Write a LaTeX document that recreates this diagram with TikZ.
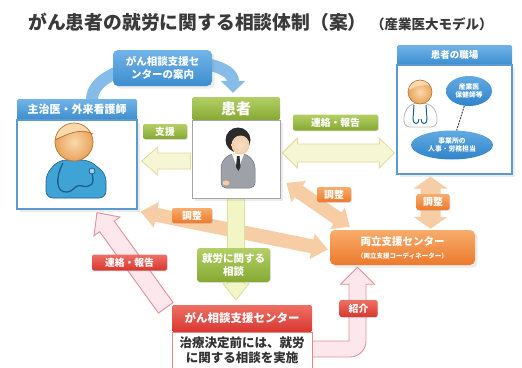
\documentclass[tikz,border=0pt]{standalone}
\usepackage{fontspec}
\setmainfont{Noto Sans CJK JP}
\usetikzlibrary{calc,arrows.meta,shapes.geometric,shadows}
\pgfdeclarelayer{canvas}
\pgfdeclarelayer{back}
\pgfsetlayers{canvas,back,main}

\definecolor{hdblue}{HTML}{3C8DCF}
\definecolor{hdbluel}{HTML}{72B4E8}
\definecolor{bxblue}{HTML}{5B9BD0}
\definecolor{hdgreen}{HTML}{86A932}
\definecolor{hdgreenl}{HTML}{B3CF66}
\definecolor{lborange}{HTML}{EC7A2C}
\definecolor{lborangel}{HTML}{F8AC6C}
\definecolor{lbred}{HTML}{D8372F}
\definecolor{lbredl}{HTML}{EE7064}
\definecolor{arryel}{HTML}{F7F6D4}
\definecolor{arryelo}{HTML}{DEDC9C}
\definecolor{arrgrn}{HTML}{F2F5C4}
\definecolor{arrgrno}{HTML}{DCE19A}
\definecolor{arrorg}{HTML}{F7CDA6}
\definecolor{arrpink}{HTML}{FCE8EC}
\definecolor{arrpinko}{HTML}{E58E9C}
\definecolor{arcblue}{HTML}{86BDE8}
\definecolor{skin}{HTML}{E9A35C}
\definecolor{skinl}{HTML}{FAD9AC}
\definecolor{skind}{HTML}{B8742F}
\definecolor{docblue}{HTML}{3FA3D6}
\definecolor{docblued}{HTML}{1D5E8A}
\definecolor{suit}{HTML}{9EA1A7}
\definecolor{suitd}{HTML}{6E7177}
\definecolor{face}{HTML}{F4CCA6}
\definecolor{hair}{HTML}{2B2B2B}
\definecolor{ellblue}{HTML}{2F84CA}
\definecolor{ellbluel}{HTML}{62AAE2}
\definecolor{titlegray}{HTML}{3A3A3A}

% wide outlined arrow with one head, from #2 to #3
% #4 half shaft width, #5 half head width, #6 head length
\newcommand\fatsingle[6]{%
  \path[#1] ($(#2)!#4!90:(#3)$)
    -- ($(#3)!#6!(#2)!#4!-90:(#2)$)
    -- ($(#3)!#6!(#2)!#5!-90:(#2)$)
    -- (#3)
    -- ($(#3)!#6!(#2)!#5!90:(#2)$)
    -- ($(#3)!#6!(#2)!#4!90:(#2)$)
    -- ($(#2)!#4!-90:(#3)$) -- cycle;}
% same, with a head at both ends
\newcommand\fatdouble[6]{%
  \path[#1] (#2)
    -- ($(#2)!#6!(#3)!#5!90:(#3)$)
    -- ($(#2)!#6!(#3)!#4!90:(#3)$)
    -- ($(#3)!#6!(#2)!#4!-90:(#2)$)
    -- ($(#3)!#6!(#2)!#5!-90:(#2)$)
    -- (#3)
    -- ($(#3)!#6!(#2)!#5!90:(#2)$)
    -- ($(#3)!#6!(#2)!#4!90:(#2)$)
    -- ($(#2)!#6!(#3)!#4!-90:(#3)$)
    -- ($(#2)!#6!(#3)!#5!-90:(#3)$)
    -- cycle;}

\begin{document}
\begin{tikzpicture}[x=1pt,y=-1pt,
  every node/.style={inner sep=0pt, align=center},
  hdr/.style={rounded corners=1.5pt, text=white, font=\bfseries\fontsize{10}{12}\selectfont},
  bluehdr/.style={hdr, top color=hdbluel, bottom color=hdblue},
  greenhdr/.style={hdr, top color=hdgreenl, bottom color=hdgreen},
  redhdr/.style={hdr, top color=lbredl, bottom color=lbred},
  orangebox/.style={hdr, top color=lborangel, bottom color=lborange},
  bluebody/.style={draw=bxblue, line width=1.3pt, fill=white},
  lbl/.style={rounded corners=2pt, text=white, font=\bfseries\fontsize{9.8}{11}\selectfont,
    drop shadow={opacity=0.2, shadow xshift=0.8pt, shadow yshift=-0.8pt}},
  greenlbl/.style={lbl, top color=hdgreenl, bottom color=hdgreen},
  orangelbl/.style={lbl, top color=lborangel, bottom color=lborange},
  redlbl/.style={lbl, top color=lbredl, bottom color=lbred},
  wpell/.style={ellipse, top color=ellbluel, bottom color=ellblue, text=white,
    font=\bfseries\fontsize{6.8}{8.2}\selectfont},
  yelarrow/.style={fill=arryel, draw=arryelo, line width=0.8pt},
  grnarrow/.style={fill=arrgrn, draw=arrgrno, line width=0.8pt},
  orgarrow/.style={fill=arrorg},
  redhollow/.style={fill=arrpink, draw=arrpinko, line width=0.9pt}
]
\useasboundingbox (0,0) rectangle (522,367);
\begin{pgfonlayer}{canvas}
  \fill[white] (0,0) rectangle (522,367);
\end{pgfonlayer}

% title
\node[anchor=west, text=titlegray, font=\bfseries\fontsize{18.8}{20}\selectfont] (title) at (28,22) {がん患者の就労に関する相談体制（案）};
\node[anchor=west, text=titlegray, font=\bfseries\fontsize{13.5}{15}\selectfont] (subtitle) at (371,24) {（産業医大モデル）};

% attending physician
\node[bluehdr, minimum width=120, minimum height=21, font=\bfseries\fontsize{11}{12}\selectfont] (dochd) at (77,109.5) {主治医・外来看護師};
\node[bluebody, minimum width=120, minimum height=89, drop shadow={opacity=0.15}] (docbody) at (77,164.5) {};

% patient
\node[greenhdr, minimum width=88, minimum height=23, font=\bfseries\fontsize{15}{16}\selectfont] (pathd) at (236,108.5) {患者};
\node[draw=gray!70, line width=1pt, fill=white, minimum width=88, minimum height=78, drop shadow={opacity=0.15}] (patbody) at (236,159) {};

% workplace
\node[bluehdr, minimum width=115, minimum height=20, font=\bfseries\fontsize{9.5}{11}\selectfont] (wphd) at (454.5,55) {患者の職場};
\node[bluebody, minimum width=115, minimum height=109, drop shadow={opacity=0.15}] (wpbody) at (454.5,119.5) {};
\node[wpell, minimum width=46, minimum height=30] (sangyo) at (469,91) {産業医\\保健師等};
\node[wpell, minimum width=82, minimum height=29] (jigyo) at (452,145) {事業所の\\人事・労務担当};
\draw[gray!60!black, line width=1pt, dash pattern=on 2pt off 1pt] (sangyo) -- (jigyo);

% guide bubble
\node[bluehdr, rounded corners=5pt, minimum width=99, minimum height=36, font=\bfseries\fontsize{10.5}{13}\selectfont, drop shadow={opacity=0.15}] (guide) at (162.5,68) {がん相談支援セ\\ンターの案内};

% coordination centre
\node[orangebox, rounded corners=5pt, minimum width=145, minimum height=35, drop shadow={opacity=0.15}] (ryo) at (402.5,247.5)
  {{\fontsize{10.5}{12}\selectfont 両立支援センター}\\[1pt]{\fontsize{6.5}{8}\selectfont （両立支援コーディネーター）}};

% work consultation
\node[greenlbl, rounded corners=3pt, minimum width=73, minimum height=34, font=\bfseries\fontsize{10.5}{13}\selectfont] (shuro) at (233.5,265) {就労に関する\\相談};

% cancer consultation support centre
\node[redhdr, minimum width=140, minimum height=27, font=\bfseries\fontsize{11.5}{13}\selectfont] (ganhd) at (242,318.5) {がん相談支援センター};
\node[draw=lbred!60, line width=1pt, fill=white, minimum width=140, minimum height=36, text=black!80, font=\bfseries\fontsize{12.5}{15}\selectfont] (ganbody) at (242,350) {治療決定前には、就労\\に関する相談を実施};

% labels
\node[greenlbl, minimum width=44, minimum height=15] (shien) at (165,131.5) {支援};
\node[greenlbl, minimum width=85, minimum height=16] (renraku1) at (335.5,122.5) {連絡・報告};
\node[orangelbl, minimum width=40, minimum height=15] (chosei1) at (192,215.5) {調整};
\node[orangelbl, minimum width=34, minimum height=15] (chosei2) at (334,194.5) {調整};
\node[orangelbl, minimum width=33, minimum height=16] (chosei3) at (433,202) {調整};
\node[redlbl, minimum width=75, minimum height=16] (renraku2) at (129.5,262.5) {連絡・報告};
\node[redlbl, minimum width=38, minimum height=17] (shokai) at (358.5,308.5) {紹介};

% physician figure
\filldraw[fill=docblue, draw=docblued, line width=0.6pt, rounded corners=7pt]
  (46,198) -- (46,174) -- (59,160) -- (89,160) -- (106,174) -- (106,198) -- cycle;
\draw[docblued, line width=1.3pt] (63,163) .. controls (55,178) and (56,193) .. (67,192)
  .. controls (75,191) and (74,184) .. (82,186) .. controls (91,188) and (95,184) .. (92,174);
\filldraw[fill=docblue!50, draw=docblued, line width=0.8pt] (92,171) circle (3);
\shade[inner color=skinl, outer color=skin] (74,142) circle (19);
\begin{scope}
  \clip (74,142) circle (19);
  \fill[skinl] (52,120) -- (52,140) .. controls (66,135) and (80,127) .. (95,134) -- (95,120) -- cycle;
\end{scope}
\draw[skind, line width=0.7pt] (55,140) .. controls (66,135) and (80,127) .. (93,134);
\draw[skind, line width=0.7pt] (74,142) circle (19);

% patient figure
\filldraw[fill=suit, draw=suitd, line width=0.5pt, rounded corners=5pt]
  (221,188) -- (221,163) -- (229,154) -- (247,154) -- (255,163) -- (255,188) -- cycle;
\fill[white] (232,154) -- (238,170) -- (244,154) -- cycle;
\fill[hair] (237,156) -- (239.5,156) -- (240.5,167) -- (238.3,171) -- (236,167) -- cycle;
\fill[face] (226,183) ellipse (3.5 and 2.5);
\fill[hair] (238,140) circle (12.5);
\shade[inner color=face!60!white, outer color=face] (240.5,145) ellipse (9 and 9.5);

% occupational physician figure
\filldraw[fill=white, draw=gray!55, line width=0.8pt, rounded corners=6pt]
  (404,127) -- (404,112) -- (412,103) -- (429,103) -- (437,112) -- (437,127) -- cycle;
\draw[docblued, line width=1pt] (414,105) -- (413,119) .. controls (413,125) and (419,125) .. (419,119);
\draw[docblued, line width=1pt] (426,105) -- (427,119) .. controls (427,125) and (421,125) .. (421,119);
\shade[inner color=skinl, outer color=skin] (420,92) circle (12);
\begin{scope}
  \clip (420,92) circle (12);
  \fill[skinl] (406,78) -- (406,91) .. controls (414,88) and (423,82) .. (433,87) -- (433,78) -- cycle;
\end{scope}
\draw[skind, line width=0.6pt] (420,92) circle (12);

% connectors, behind the boxes
\begin{pgfonlayer}{back}
  % referral guidance arc
  \draw[arcblue, line width=12pt, -{Triangle[width=24pt,length=12pt]}]
    ($(dochd.north)+(15,1)$) .. controls ($(dochd.north)+(15,-44)$) and ($(pathd.north)+(-3,-46)$) .. ($(pathd.north)+(-3,-4)$);
  % support
  \coordinate (a1s) at ($(patbody.west)+(-1,2)$);
  \coordinate (a1e) at ($(docbody.east |- a1s)+(4,0)$);
  \fatsingle{yelarrow}{a1s}{a1e}{8pt}{14pt}{16pt}
  % contact / report with workplace
  \coordinate (a2s) at ($(patbody.east)+(2,-6)$);
  \coordinate (a2e) at ($(wpbody.west |- a2s)+(-2,0)$);
  \fatdouble{yelarrow}{a2s}{a2e}{9pt}{15pt}{15pt}
  % coordination arrows
  \coordinate (a3s) at ($(docbody.south east)+(3,2)$);
  \coordinate (a3e) at ($(ryo.west)+(-2,2)$);
  \fatdouble{orgarrow}{a3s}{a3e}{7pt}{13pt}{16pt}
  \coordinate (a4s) at ($(patbody.east)+(6,24)$);
  \coordinate (a4e) at ($(ryo.north west)+(20,-3)$);
  \fatdouble{orgarrow}{a4s}{a4e}{7pt}{13pt}{15pt}
  \coordinate (a5s) at ($(wpbody.south)+(-24,2)$);
  \coordinate (a5e) at ($(ryo.north)+(28,-1)$);
  \fatdouble{orgarrow}{a5s}{a5e}{10pt}{17pt}{12pt}
  % work consultation flow
  \coordinate (a6s) at (patbody.south);
  \coordinate (a6e) at ($(patbody.south |- ganhd.north)+(0,-5)$);
  \fatsingle{grnarrow}{a6s}{a6e}{8.5pt}{13pt}{16pt}
  % report back to physician
  \coordinate (a7s) at ($(ganhd.north west)+(-6,3)$);
  \coordinate (a7e) at ($(docbody.south)+(20,3)$);
  \fatsingle{redhollow}{a7s}{a7e}{9pt}{16pt}{17pt}
  % referral to coordination centre
  \coordinate (Ls) at ($(ganbody.east)+(-1,-1)$);
  \coordinate (Lt) at ($(ryo.south)+(-45,2)$);
  \path[redhollow] ($(Ls)+(0,-8)$) -- ($(Lt |- Ls)+(-8.5,-8)$) -- ($(Lt)+(-8.5,17)$)
    -- ($(Lt)+(-17,17)$) -- (Lt) -- ($(Lt)+(17,17)$) -- ($(Lt)+(8.5,17)$)
    -- ($(Lt |- Ls)+(8.5,-8)$) arc[start angle=0, end angle=90, radius=16]
    -- ($(Ls)+(0,8)$) -- cycle;
\end{pgfonlayer}
\end{tikzpicture}
\end{document}
